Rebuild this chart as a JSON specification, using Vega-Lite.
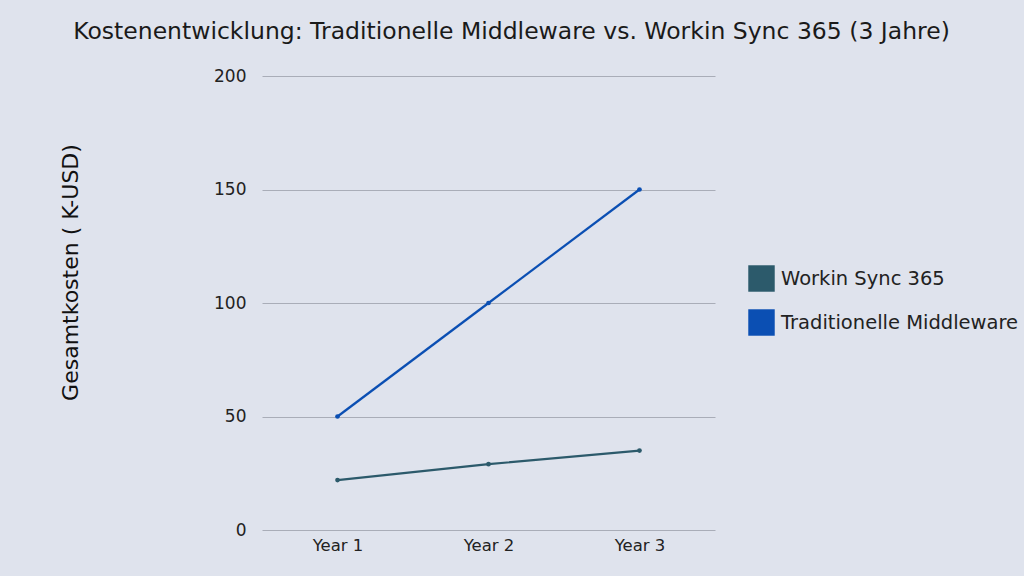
{
  "$schema": "https://vega.github.io/schema/vega-lite/v6.json",
  "autosize": "none",
  "width": 453,
  "height": 454,
  "padding": {"left": 262, "top": 76, "right": 309, "bottom": 46},
  "background": "#dfe3ed",
  "title": {
    "text": "Kostenentwicklung: Traditionelle Middleware vs. Workin Sync 365 (3 Jahre)",
    "font": "DejaVu Sans",
    "fontSize": 23.5,
    "fontWeight": "normal",
    "color": "#1a1a1a",
    "anchor": "middle",
    "dx": 23,
    "offset": 24
  },
  "data": {
    "values": [
      {"year": "Year 1", "series": "Workin Sync 365", "cost": 22},
      {"year": "Year 2", "series": "Workin Sync 365", "cost": 29},
      {"year": "Year 3", "series": "Workin Sync 365", "cost": 35},
      {"year": "Year 1", "series": "Traditionelle Middleware", "cost": 50},
      {"year": "Year 2", "series": "Traditionelle Middleware", "cost": 100},
      {"year": "Year 3", "series": "Traditionelle Middleware", "cost": 150}
    ]
  },
  "config": {
    "view": {"stroke": null},
    "font": "DejaVu Sans"
  },
  "mark": {"type": "line", "strokeWidth": 2.2, "point": {"size": 22, "filled": true}},
  "encoding": {
    "x": {
      "field": "year",
      "type": "ordinal",
      "scale": {"type": "point", "padding": 0.5},
      "axis": {
        "title": null,
        "labelAngle": 0,
        "labelFontSize": 16.5,
        "labelColor": "#222",
        "labelPadding": 7,
        "domain": false,
        "ticks": false
      }
    },
    "y": {
      "field": "cost",
      "type": "quantitative",
      "scale": {"domain": [0, 200]},
      "axis": {
        "values": [0, 50, 100, 150, 200],
        "title": "Gesamtkosten ( K-USD)",
        "titleFontSize": 22,
        "titleFontWeight": "normal",
        "titleColor": "#111",
        "titleX": -180,
        "titleY": 196,
        "labelFontSize": 17,
        "labelColor": "#222",
        "labelPadding": 16,
        "domain": false,
        "ticks": false,
        "grid": true,
        "gridColor": "#a9adb8",
        "gridWidth": 1
      }
    },
    "color": {
      "field": "series",
      "type": "nominal",
      "sort": ["Workin Sync 365", "Traditionelle Middleware"],
      "scale": {
        "domain": ["Workin Sync 365", "Traditionelle Middleware"],
        "range": ["#2c5a6b", "#0b4fb3"]
      },
      "legend": {
        "orient": "none",
        "legendX": 486,
        "legendY": 189,
        "title": null,
        "symbolType": "square",
        "symbolSize": 700,
        "symbolStrokeWidth": 0,
        "labelFontSize": 19.5,
        "labelColor": "#222",
        "labelOffset": 6,
        "rowPadding": 17,
        "labelLimit": 400
      }
    }
  }
}
